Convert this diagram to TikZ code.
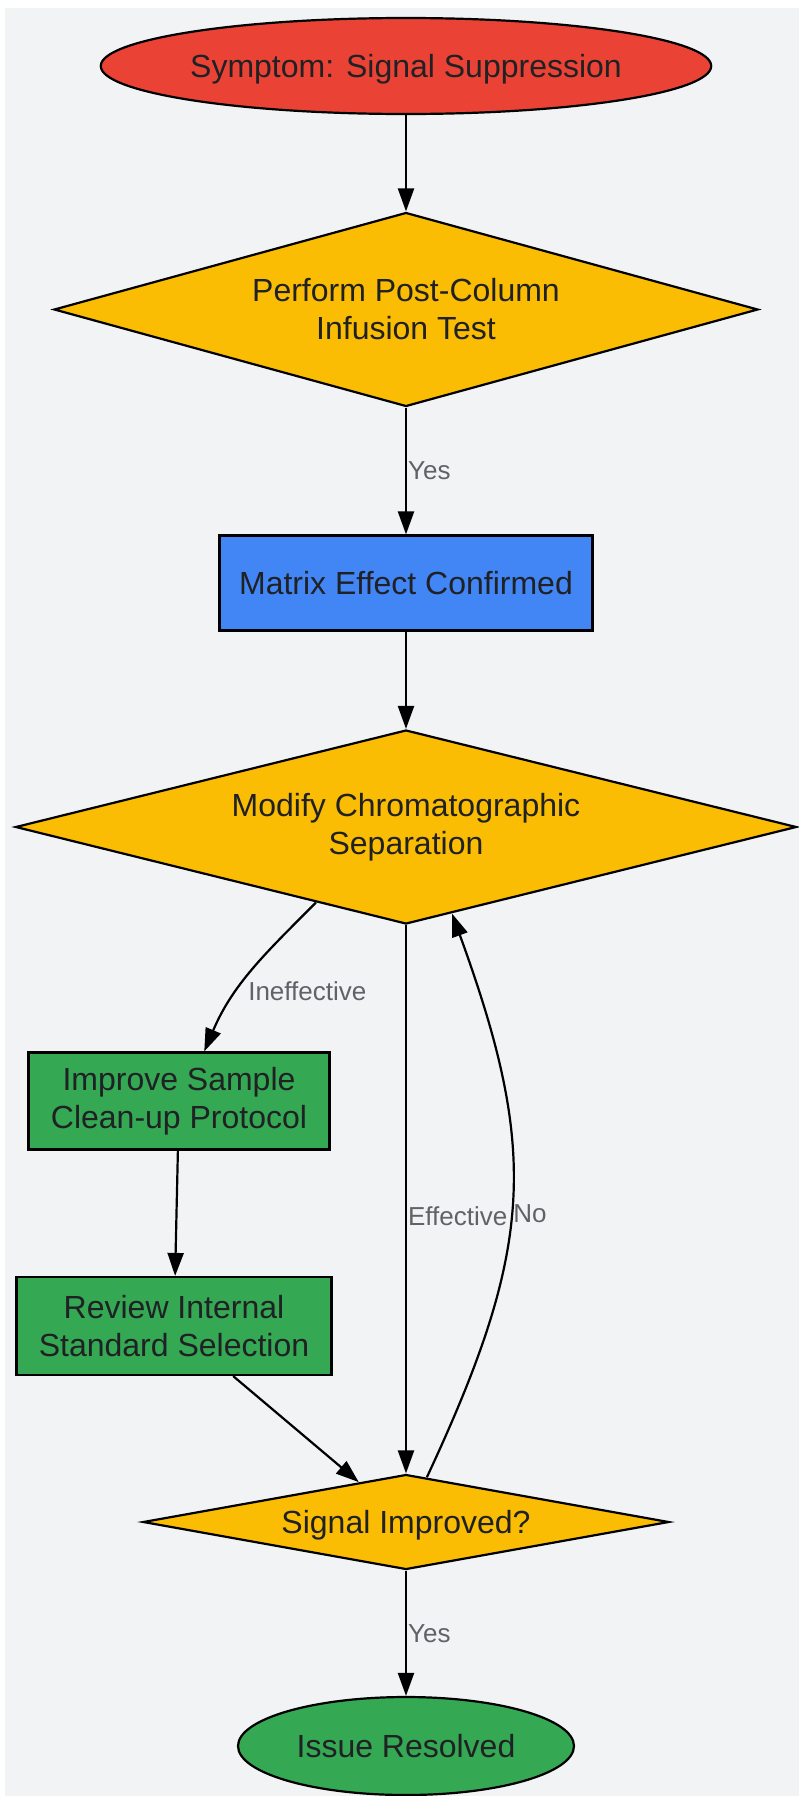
\documentclass[tikz,border=0pt]{standalone}
\usepackage{fontspec}
\setmainfont{Liberation Sans}
\usetikzlibrary{shapes.geometric,arrows.meta}
\definecolor{bgc}{HTML}{F1F3F4}
\definecolor{ink}{HTML}{202124}
\definecolor{grey}{HTML}{5F6368}
\definecolor{gred}{HTML}{EA4335}
\definecolor{gyellow}{HTML}{FBBC04}
\definecolor{gblue}{HTML}{4285F4}
\definecolor{ggreen}{HTML}{34A853}
\begin{document}
\begin{tikzpicture}[
                    x=1pt, y=-1pt,
                    >={Triangle[length=23pt,width=16pt]},
                    every node/.style={
                        font=\fontsize{32}{38}\selectfont,
                        text=ink
                    },
                    term/.style={ellipse, draw, line width=2.2pt, inner sep=0pt, text depth=0pt},
                    decision/.style={diamond, draw, fill=gyellow, line width=2.2pt, inner sep=0pt, align=center},
                    process/.style={rectangle, draw, line width=2.2pt, inner sep=0pt, align=center},
                    lbl/.style={font=\fontsize{26}{30}\selectfont, text=grey, inner sep=1pt},
                    flow/.style={->, line width=2.2pt}
                ]
                    \useasboundingbox (0,0) rectangle (799,1796);
                    \fill[white] (0,0) rectangle (799,1796);
                    \fill[bgc] (5,7.5) rectangle (799,1796);

                    \node[term, fill=gred, minimum width=602pt, minimum height=96pt] (sym) at (406,66) {Symptom: Signal Suppression};
                    \node[decision, aspect=3.63, minimum width=704pt, minimum height=194pt] (inf) at (406,309.5) {Perform Post-Column\\Infusion Test};
                    \node[process, fill=gblue, text depth=0pt, minimum width=373pt, minimum height=95pt] (mat) at (406,583) {Matrix Effect Confirmed};
                    \node[decision, aspect=4.02, minimum width=781pt, minimum height=194pt] (mod) at (406,827) {Modify Chromatographic\\Separation};
                    \node[process, fill=ggreen, minimum width=301pt, minimum height=97pt] (clean) at (179,1101) {Improve Sample\\Clean-up Protocol};
                    \node[process, fill=ggreen, minimum width=315pt, minimum height=98pt] (rev) at (174,1326) {Review Internal\\Standard Selection};
                    \node[decision, aspect=5.5, text depth=0pt, minimum width=526pt, minimum height=95pt] (imp) at (406,1522) {Signal Improved?};
                    \node[term, fill=ggreen, minimum width=336pt, minimum height=98pt] (res) at (406,1746) {Issue Resolved};

                    % Edges
                    \draw[flow] (sym) -- (inf);
                    \draw[flow] (inf) -- node[lbl, anchor=west] {Yes} (mat);
                    \draw[flow] (mat) -- (mod);
                    \draw[flow] (mod.220) to[out=-135, in=67] node[lbl, anchor=west, pos=0.55, yshift=-13pt] {Ineffective} (clean.63);
                    \draw[flow] (mod) -- node[lbl, anchor=west, pos=0.53] {Effective} (imp);
                    \draw[flow] (clean) -- (rev);
                    \draw[flow] (rev) -- (imp);
                    \draw[flow] (imp.65) to[out=65, in=-70, looseness=1.15] node[lbl, anchor=west, pos=0.47] {No} (mod.-62);
                    \draw[flow] (imp) -- node[lbl, anchor=west] {Yes} (res);
                \end{tikzpicture}
\end{document}
